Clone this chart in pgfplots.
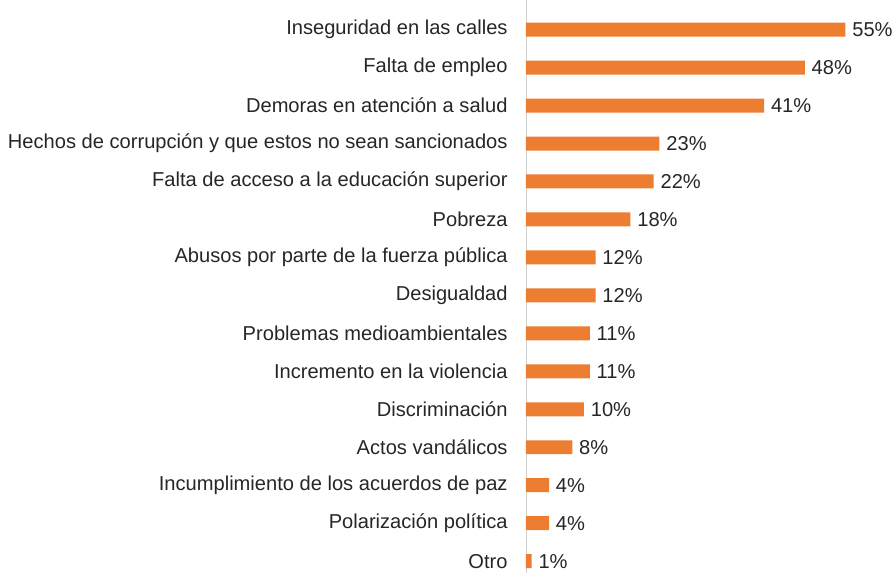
\documentclass[border=0pt]{standalone}
\usepackage{fontspec}
\setmainfont{Liberation Sans}
\usepackage{pgfplots}
\pgfplotsset{compat=1.18}
\definecolor{barorange}{HTML}{ED7D31}
\definecolor{txt}{HTML}{262626}
\definecolor{axgray}{HTML}{D0D0D0}
\begin{document}
\begin{tikzpicture}
\begin{axis}[
  name=ax,
  scale only axis,
  width=278pt, height=430pt,
  xbar,
  bar width=10.5pt,
  xmin=0, xmax=63.7,
  ymin=-0.78, ymax=14.30,
  y dir=reverse,
  axis x line=none,
  axis y line=left,
  y axis line style={axgray, -},
  ytick={0,...,14},
  yticklabels={
    Inseguridad en las calles,
    Falta de empleo,
    Demoras en atención a salud,
    Hechos de corrupción y que estos no sean sancionados,
    Falta de acceso a la educación superior,
    Pobreza,
    Abusos por parte de la fuerza pública,
    Desigualdad,
    Problemas medioambientales,
    Incremento en la violencia,
    Discriminación,
    Actos vandálicos,
    Incumplimiento de los acuerdos de paz,
    Polarización política,
    Otro},
  major tick length=0pt,
  yticklabel style={font=\fontsize{15.1}{17}\selectfont, text=txt, inner sep=0pt, xshift=-13.5pt},
  point meta=x,
  /pgf/number format/assume math mode=true,
  nodes near coords={\pgfmathprintnumber{\pgfplotspointmeta}\%},
  nodes near coords style={font=\fontsize{15.1}{17}\selectfont, text=txt, inner sep=0pt, xshift=5pt},
  clip=false,
]
\addplot[fill=barorange, draw=none] coordinates {
  (55,0) (48,1) (41,2) (23,3) (22,4) (18,5) (12,6) (12,7)
  (11,8) (11,9) (10,10) (8,11) (4,12) (4,13) (1,14)
};
\end{axis}
\coordinate (L) at (current bounding box.west);
\pgfresetboundingbox
\path ([xshift=-6pt]L |- ax.south) rectangle (ax.north east);
\end{tikzpicture}
\end{document}
